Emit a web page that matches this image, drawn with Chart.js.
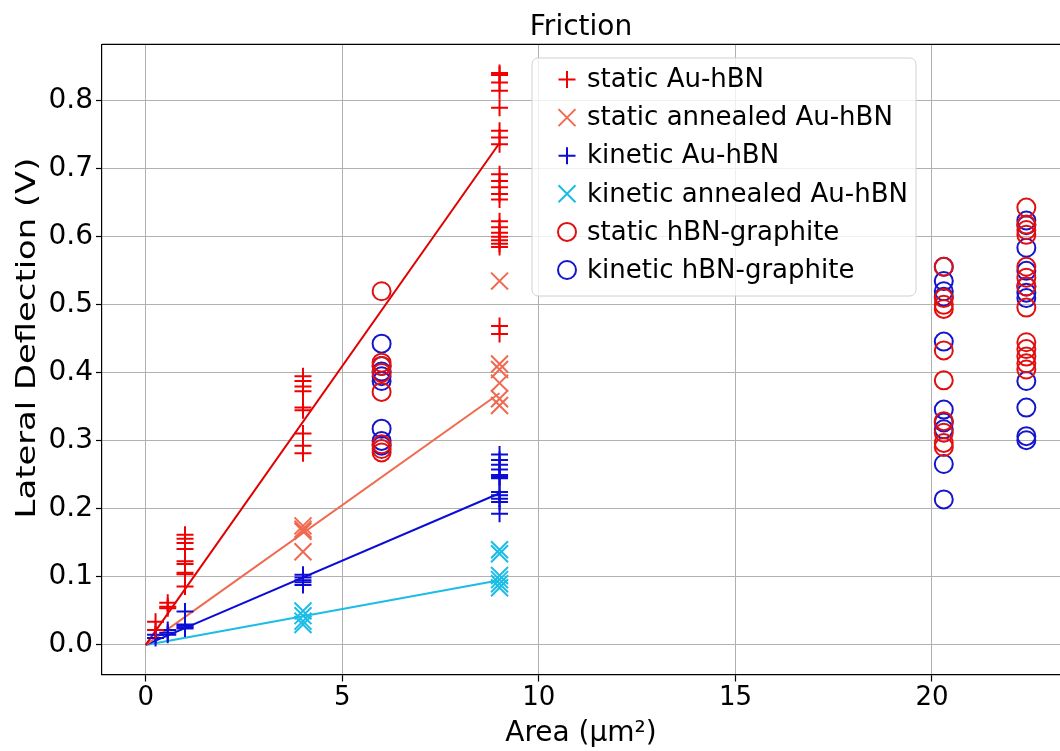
<!DOCTYPE html>
<html><head><meta charset="utf-8">
<script src="https://cdn.jsdelivr.net/npm/chart.js@4.4.1/dist/chart.umd.min.js"></script>
<style>html,body{margin:0;padding:0;overflow:hidden;background:#fff}canvas{display:block}</style>
</head><body><canvas id="c" width="1060" height="751"></canvas>
<script>
// ---- tick labels ----
const xTicks = [0, 5, 10, 15, 20];
const xTickLabels = ['0', '5', '10', '15', '20'];
const yTicks = [0, 0.1, 0.2, 0.3, 0.4, 0.5, 0.6, 0.7, 0.8];
const yTickLabels = ['0.0', '0.1', '0.2', '0.3', '0.4', '0.5', '0.6', '0.7', '0.8'];

// ---- categories (areas, µm²) ----
const areasAu = [0.25, 0.56, 1, 4, 9];
const areasAnnealed = [4, 9];
const areasGraphite = [6, 20.3, 22.4];

// ---- series values (V), one list per area ----
const staticAuHBN = [
  [0.034, 0.022],
  [0.062, 0.056, 0.054],
  [0.162, 0.156, 0.150, 0.141, 0.123, 0.119, 0.106, 0.104, 0.086],
  [0.395, 0.388, 0.380, 0.373, 0.349, 0.345, 0.311, 0.293, 0.282],
  [0.841, 0.838, 0.827, 0.815, 0.790, 0.756, 0.746, 0.736, 0.692, 0.682, 0.673, 0.663, 0.655, 0.623, 0.614, 0.606, 0.600, 0.595, 0.590, 0.585, 0.469, 0.457]
];
const staticAnnealedAuHBN = [
  [0.175, 0.170, 0.167, 0.137],
  [0.535, 0.413, 0.405, 0.385, 0.362, 0.352]
];
const kineticAuHBN = [
  [0.015, 0.010],
  [0.022, 0.018, 0.015],
  [0.049, 0.030, 0.028, 0.026, 0.024],
  [0.103, 0.099, 0.095, 0.092, 0.088],
  [0.280, 0.272, 0.265, 0.258, 0.250, 0.247, 0.245, 0.225, 0.220, 0.215, 0.210, 0.193]
];
const kineticAnnealedAuHBN = [
  [0.050, 0.043, 0.035, 0.030],
  [0.140, 0.134, 0.102, 0.096, 0.090, 0.084]
];
const staticHBNGraphite = [
  [0.520, 0.415, 0.410, 0.400, 0.372, 0.295, 0.288, 0.283],
  [0.556, 0.510, 0.500, 0.494, 0.433, 0.389, 0.329, 0.312, 0.297, 0.291],
  [0.643, 0.618, 0.610, 0.603, 0.556, 0.540, 0.527, 0.496, 0.445, 0.435, 0.424, 0.414, 0.405]
];
const kineticHBNGraphite = [
  [0.443, 0.410, 0.402, 0.395, 0.388, 0.318, 0.300, 0.293],
  [0.556, 0.535, 0.520, 0.512, 0.446, 0.346, 0.327, 0.317, 0.266, 0.214],
  [0.624, 0.617, 0.584, 0.550, 0.527, 0.518, 0.510, 0.388, 0.349, 0.307, 0.301]
];

// ---- linear fits (read at the ends of the drawn lines) ----
const fitAreas = [0, 9];
const fitStaticAu = [0, 0.738];
const fitStaticAnnealed = [0, 0.370];
const fitKineticAu = [0, 0.223];
const fitKineticAnnealed = [0, 0.095];

const FONT = 'DejaVu Sans';
const Y_TITLE = 'Lateral Deflection (V)';
const C_RED = '#f00000', C_RED_LINE = '#e00000', C_SALMON = '#f06a50', C_BLUE = '#0c0cd6', C_CYAN = '#1bbde6';
const C_RED_O = '#e01010', C_BLUE_O = '#1515cc';

function pts(areas, groups) {
  const out = [];
  areas.forEach((a, i) => groups[i].forEach(v => out.push({x: a, y: v})));
  return out;
}
function line(xs, ys) { return xs.map((x, i) => ({x, y: ys[i]})); }

const markerSets = [
  {label: 'static Au-hBN', data: pts(areasAu, staticAuHBN), pointStyle: 'cross', pointRadius: 8.5, borderColor: C_RED},
  {label: 'static annealed Au-hBN', data: pts(areasAnnealed, staticAnnealedAuHBN), pointStyle: 'crossRot', pointRadius: 12, borderColor: C_SALMON},
  {label: 'kinetic Au-hBN', data: pts(areasAu, kineticAuHBN), pointStyle: 'cross', pointRadius: 8.5, borderColor: C_BLUE},
  {label: 'kinetic annealed Au-hBN', data: pts(areasAnnealed, kineticAnnealedAuHBN), pointStyle: 'crossRot', pointRadius: 12, borderColor: C_CYAN},
  {label: 'static hBN-graphite', data: pts(areasGraphite, staticHBNGraphite), pointStyle: 'circle', pointRadius: 9, borderColor: C_RED_O},
  {label: 'kinetic hBN-graphite', data: pts(areasGraphite, kineticHBNGraphite), pointStyle: 'circle', pointRadius: 9, borderColor: C_BLUE_O}
].map(d => Object.assign(d, {showLine: false, pointBorderWidth: 2, pointBackgroundColor: 'rgba(0,0,0,0)', pointBorderColor: d.borderColor, pointHoverRadius: d.pointRadius}));

const fitSets = [
  {data: line(fitAreas, fitStaticAu), borderColor: C_RED_LINE},
  {data: line(fitAreas, fitStaticAnnealed), borderColor: C_SALMON},
  {data: line(fitAreas, fitKineticAu), borderColor: C_BLUE},
  {data: line(fitAreas, fitKineticAnnealed), borderColor: C_CYAN}
].map(d => Object.assign(d, {label: '', showLine: true, borderWidth: 2, pointRadius: 0, fill: false}));

const framePlugin = {
  id: 'frame',
  afterDraw(chart) {
    const {ctx, chartArea: a} = chart;
    ctx.save();
    ctx.strokeStyle = '#000'; ctx.lineWidth = 1.2;
    ctx.beginPath(); ctx.moveTo(a.left, a.top); ctx.lineTo(a.right, a.top); ctx.stroke();
    // y-axis title (stretched along its length like the reference)
    ctx.translate(28, 338);
    ctx.rotate(-Math.PI / 2);
    ctx.scale(1.3, 1);
    ctx.fillStyle = '#000'; ctx.font = '26px "' + FONT + '"';
    ctx.textAlign = 'center'; ctx.textBaseline = 'middle';
    ctx.fillText(Y_TITLE, 0, 0);
    ctx.restore();
  }
};

const legendPlugin = {
  id: 'boxLegend',
  afterDraw(chart) {
    const ctx = chart.ctx;
    const bx = 532, by = 58, bw = 384, bh = 238, r = 6;
    ctx.save();
    ctx.beginPath();
    ctx.moveTo(bx + r, by); ctx.lineTo(bx + bw - r, by); ctx.arcTo(bx + bw, by, bx + bw, by + r, r);
    ctx.lineTo(bx + bw, by + bh - r); ctx.arcTo(bx + bw, by + bh, bx + bw - r, by + bh, r);
    ctx.lineTo(bx + r, by + bh); ctx.arcTo(bx, by + bh, bx, by + bh - r, r);
    ctx.lineTo(bx, by + r); ctx.arcTo(bx, by, bx + r, by, r); ctx.closePath();
    ctx.fillStyle = 'rgba(255,255,255,0.8)'; ctx.fill();
    ctx.strokeStyle = '#d0d0d0'; ctx.lineWidth = 1; ctx.stroke();
    const rowY0 = 79.5, rowStep = 38.1;
    markerSets.forEach((d, i) => {
      const y = rowY0 + i * rowStep;
      ctx.strokeStyle = d.borderColor; ctx.fillStyle = 'rgba(0,0,0,0)'; ctx.lineWidth = 2;
      Chart.helpers.drawPoint(ctx, {pointStyle: d.pointStyle, radius: d.pointRadius, rotation: 0, borderWidth: 2}, 567, y);
      ctx.fillStyle = '#000'; ctx.font = '26px "' + FONT + '"'; ctx.textBaseline = 'middle'; ctx.textAlign = 'left';
      ctx.fillText(d.label, 587, y + 1);
    });
    ctx.restore();
  }
};

new Chart(document.getElementById('c'), {
  type: 'scatter',
  data: {datasets: [...markerSets, ...fitSets]},
  options: {
    responsive: false, animation: false, devicePixelRatio: 1,
    layout: {autoPadding: false, padding: {left: 0, right: 0, top: 0, bottom: 0}},
    plugins: {
      legend: {display: false}, tooltip: {enabled: false},
      title: {display: true, fullSize: false, text: 'Friction', color: '#000', font: {family: FONT, size: 28, weight: 'normal'}, padding: {top: 10.8, bottom: 0}}
    },
    scales: {
      x: {
        type: 'linear', min: -1.112, max: 23.256,
        afterBuildTicks: s => { s.ticks = xTicks.map(v => ({value: v})); },
        afterFit: s => { s.height = 76.5; },
        grid: {color: '#b0b0b0', lineWidth: 1, tickColor: '#000', tickLength: 7, tickWidth: 1.2},
        border: {color: '#000', width: 1.2},
        ticks: {color: '#000', font: {family: FONT, size: 26, lineHeight: 1}, padding: 4, maxRotation: 0, callback: (v, i) => xTickLabels[i]},
        title: {display: true, text: 'Area (μm²)', color: '#000', font: {family: FONT, size: 28}, padding: {top: 0, bottom: 0}}
      },
      y: {
        type: 'linear', min: -0.0435, max: 0.883,
        afterBuildTicks: s => { s.ticks = yTicks.map(v => ({value: v})); },
        afterFit: s => { s.width = 102; },
        grid: {color: '#b0b0b0', lineWidth: 1, tickColor: '#000', tickLength: 6, tickWidth: 1.2},
        border: {color: '#000', width: 1.2},
        ticks: {color: '#000', font: {family: FONT, size: 28}, padding: 3, callback: (v, i) => yTickLabels[i]},
        title: {display: false}
      }
    }
  },
  plugins: [framePlugin, legendPlugin]
});
</script></body></html>
